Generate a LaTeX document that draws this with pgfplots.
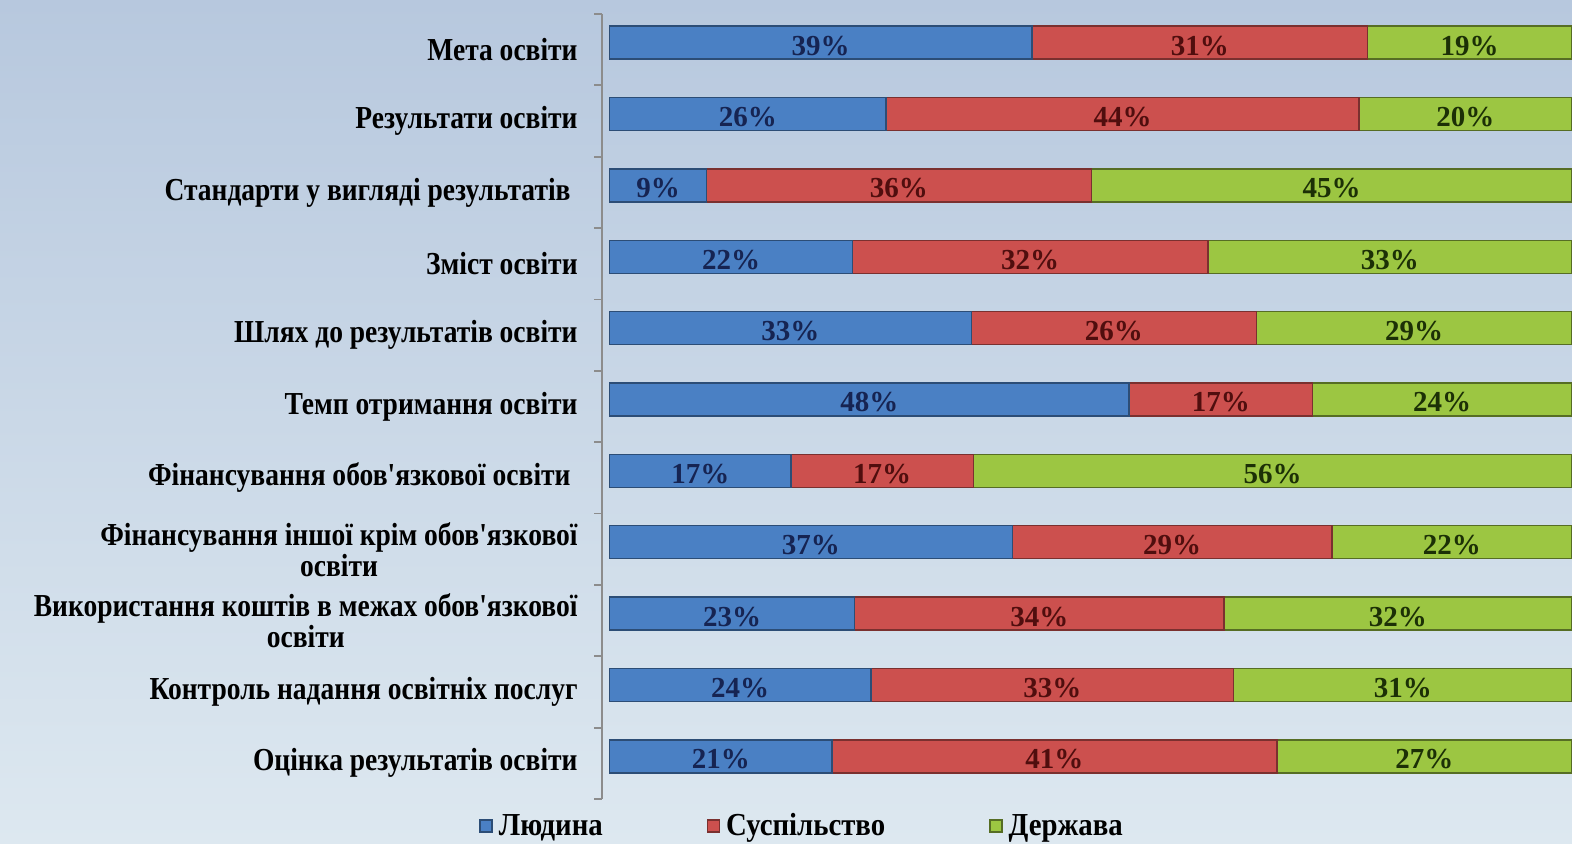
\documentclass[border=0pt]{standalone}
\usepackage{pgfplots}
\pgfplotsset{compat=1.18}
\usepackage{pgfplotstable}
\usepackage{fontspec}
\setmainfont{Liberation Serif}
\newfontfamily\labfont[FakeStretch=0.86]{Liberation Serif}
\newfontfamily\legfont[FakeStretch=0.9]{Liberation Serif}

\definecolor{bgtop}{RGB}{183,200,222}
\definecolor{bgbot}{RGB}{221,232,240}
\definecolor{cblue}{RGB}{74,128,196}
\definecolor{cred}{RGB}{204,80,78}
\definecolor{cgreen}{RGB}{156,198,66}
\definecolor{tblue}{RGB}{22,36,82}
\definecolor{tred}{RGB}{80,14,14}
\definecolor{tgreen}{RGB}{28,48,6}
\definecolor{axgray}{RGB}{140,140,140}

\pgfplotstableread{
i  b     r     g     lb  lr  lg
1  39.1  31.1  18.9  39  31  19
2  25.6  43.8  19.7  26  44  20
3  9.0   35.6  44.5  9   36  45
4  22.5  32.9  33.7  22  32  33
5  33.5  26.4  29.2  33  26  29
6  48.1  17.0  24.0  48  17  24
7  16.8  16.9  55.4  17  17  56
8  37.3  29.6  22.2  37  29  22
9  22.7  34.2  32.2  23  34  32
10 24.2  33.6  31.3  24  33  31
11 20.6  41.2  27.3  21  41  27
}\data

\begin{document}
\begin{tikzpicture}
\useasboundingbox (0,0) rectangle (786pt,421.5pt);
\shade[top color=bgtop, bottom color=bgbot] (0,0) rectangle (786pt,421.5pt);
\begin{axis}[
  at={(301pt,22pt)}, anchor=south west,
  scale only axis, width=485pt, height=392.5pt,
  xbar stacked, bar width=16.5pt, bar shift=3.5pt,
  xmin=-0.7, xmax=89.12,
  ymin=0.5, ymax=11.5, y dir=reverse,
  axis x line=none, axis y line*=left,
  y axis line style={draw=axgray, line width=0.9pt},
  ytick={1,...,11},
  minor ytick={0.5,1.5,...,11.5},
  major tick length=0pt, minor tick length=4pt,
  tick align=outside,
  minor tick style={draw=axgray, line width=0.9pt},
  yticklabels={
    {Мета освіти},
    {Результати освіти},
    {Стандарти у вигляді результатів\kern3.5pt},
    {Зміст освіти},
    {Шлях до результатів освіти},
    {Темп отримання освіти},
    {Фінансування обов'язкової освіти\kern3.5pt},
    {Фінансування іншої крім обов'язкової\\освіти},
    {Використання коштів в межах обов'язкової\\освіти},
    {Контроль надання освітніх послуг},
    {Оцінка результатів освіти}},
  yticklabel style={align=center, anchor=east, inner sep=0pt, xshift=-12pt,
    font=\labfont\bfseries\fontsize{16}{15.5}\selectfont, text=black},
  point meta=explicit symbolic,
  nodes near coords={\pgfplotspointmeta\%},
  every node near coord/.append style={anchor=center, yshift=-1.5pt,
    font=\bfseries\fontsize{14.5}{15}\selectfont},
  legend columns=3,
  legend style={at={(axis description cs:-0.1268,-0.0344)}, anchor=west,
    draw=none, fill=none, inner sep=0pt,
    font=\legfont\bfseries\fontsize{16}{18}\selectfont,
    nodes={inner ysep=1.5pt, inner xsep=3pt},
    /tikz/every even column/.append style={column sep=49pt}},
  legend image code/.code={\fill[#1] (0pt,-2.9pt) rectangle (6pt,3.1pt);},
]
\addplot[fill=cblue, draw=cblue!60!black, line width=0.7pt,
  every node near coord/.append style={text=tblue}]
  table[x=b, y=i, meta=lb] {\data};
\addplot[fill=cred, draw=cred!60!black, line width=0.7pt,
  every node near coord/.append style={text=tred}]
  table[x=r, y=i, meta=lr] {\data};
\addplot[fill=cgreen, draw=cgreen!55!black, line width=0.7pt,
  every node near coord/.append style={text=tgreen}]
  table[x=g, y=i, meta=lg] {\data};
\legend{Людина, Суспільство, Держава}
\end{axis}
\end{tikzpicture}
\end{document}
